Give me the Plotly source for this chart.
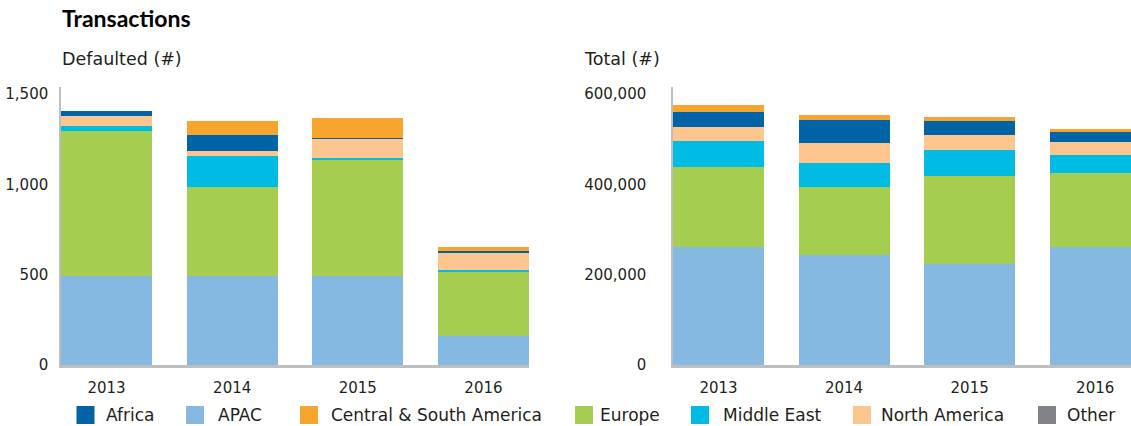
import plotly.graph_objects as go

years = ["2013", "2014", "2015", "2016"]
regions = ["Africa", "APAC", "Central & South America", "Europe", "Middle East", "North America", "Other"]
colors = {
    "Africa": "#0063a6",
    "APAC": "#86b9e2",
    "Central & South America": "#f7a52e",
    "Europe": "#a5cd50",
    "Middle East": "#00bce4",
    "North America": "#fdc68f",
    "Other": "#808285",
}

# Defaulted (#)
def_apac = [493, 493, 493, 160]
def_europe = [799, 492, 642, 355]
def_middle_east = [33, 172, 11, 11]
def_north_america = [55, 27, 105, 94]
def_africa = [26, 89, 6, 11]
def_csa = [0, 77, 111, 22]
def_other = [0, 0, 0, 0]

# Total (#)
tot_apac = [261000, 243500, 224400, 261300]
tot_europe = [177000, 150600, 194100, 163900]
tot_middle_east = [57500, 53100, 57600, 39800]
tot_north_america = [31000, 44300, 33200, 28800]
tot_africa = [33200, 50900, 31000, 22200]
tot_csa = [15500, 11100, 8900, 6600]
tot_other = [0, 0, 0, 0]

left_ticks = [0, 500, 1000, 1500]
right_ticks = [0, 200000, 400000, 600000]

W, H = 1131, 426
FONT = "DejaVu Sans"
TXT = "#231f20"
AXIS = "#bcbec0"

def px(x):
    return x / W

def py(y):
    return 1 - y / H

stack_order = ["APAC", "Europe", "Middle East", "North America", "Africa", "Central & South America", "Other"]
left_data = {
    "APAC": def_apac, "Europe": def_europe, "Middle East": def_middle_east,
    "North America": def_north_america, "Africa": def_africa,
    "Central & South America": def_csa, "Other": def_other,
}
right_data = {
    "APAC": tot_apac, "Europe": tot_europe, "Middle East": tot_middle_east,
    "North America": tot_north_america, "Africa": tot_africa,
    "Central & South America": tot_csa, "Other": tot_other,
}

fig = go.Figure()
for r in stack_order:
    fig.add_trace(go.Bar(x=years, y=left_data[r], name=r, marker=dict(color=colors[r], line=dict(width=0)),
                         xaxis="x", yaxis="y", showlegend=False))
    fig.add_trace(go.Bar(x=years, y=right_data[r], name=r, marker=dict(color=colors[r], line=dict(width=0)),
                         xaxis="x2", yaxis="y2", showlegend=False))

axis_common = dict(showgrid=False, zeroline=False, tickfont=dict(family=FONT, size=15, color=TXT))
y_bottom, y_top = 365, 87
fig.update_layout(
    autosize=True,
    margin=dict(l=0, r=0, t=0, b=0, autoexpand=False),
    paper_bgcolor="white", plot_bgcolor="white",
    barmode="stack", bargap=0.275,
    font=dict(family=FONT, color=TXT),
    xaxis=dict(domain=[px(61), px(529)], range=[-0.3625, 3.3625], showline=True, linecolor=AXIS,
               linewidth=2.5, ticks="", ticklabelstandoff=7, anchor="y", **axis_common),
    yaxis=dict(domain=[py(y_bottom), py(y_top)], range=[0, 1538], showline=True, linecolor=AXIS,
               linewidth=1.5, tickvals=left_ticks, tickformat=",", ticks="", ticklabelstandoff=8,
               anchor="x", **axis_common),
    xaxis2=dict(domain=[px(673), 1.0], range=[-0.3625, 3.285], showline=True, linecolor=AXIS,
                linewidth=2.5, ticks="", ticklabelstandoff=7, anchor="y2", **axis_common),
    yaxis2=dict(domain=[py(y_bottom), py(y_top)], range=[0, 615300], showline=True, linecolor=AXIS,
                linewidth=1.5, tickvals=right_ticks, tickformat=",", ticks="", ticklabelstandoff=22,
                anchor="x2", **axis_common),
    showlegend=False,
)

annotations = [
    dict(text="<b>Transactions</b>", x=px(60), y=py(18), xref="paper", yref="paper", xanchor="left",
         yanchor="middle", showarrow=False, font=dict(family="Lato", size=23, color="#000000")),
    dict(text="Defaulted (#)", x=px(60), y=py(58.5), xref="paper", yref="paper", xanchor="left",
         yanchor="middle", showarrow=False, font=dict(family=FONT, size=17.5, color=TXT)),
    dict(text="Total (#)", x=px(582), y=py(58.5), xref="paper", yref="paper", xanchor="left",
         yanchor="middle", showarrow=False, font=dict(family=FONT, size=17.5, color=TXT)),
]

legend_sq_x = [76.5, 186, 300, 575, 691, 853, 1038]
legend_txt_x = [104, 216, 329, 598, 721, 879, 1065]
shapes = []
for r, sx, tx in zip(regions, legend_sq_x, legend_txt_x):
    shapes.append(dict(type="rect", xref="paper", yref="paper", x0=px(sx), x1=px(sx + 18),
                       y0=py(424), y1=py(406), fillcolor=colors[r], line=dict(width=0)))
    annotations.append(dict(text=r, x=px(tx), y=py(415), xref="paper", yref="paper", xanchor="left",
                            yanchor="middle", showarrow=False, font=dict(family=FONT, size=17, color=TXT)))

fig.update_layout(annotations=annotations, shapes=shapes)
post = (
    "document.documentElement.style.margin='0px';"
    "document.body.style.margin='0px';"
    "document.documentElement.style.overflow='hidden';"
    "document.body.style.overflow='hidden';"
    "var d=document.getElementById('{plot_id}');"
    "d.style.position='fixed';d.style.left='0px';d.style.top='0px';"
)
fig.write_html("out.html", post_script=post, config={"displayModeBar": False, "responsive": True},
               default_width="100vw", default_height="100vh")
